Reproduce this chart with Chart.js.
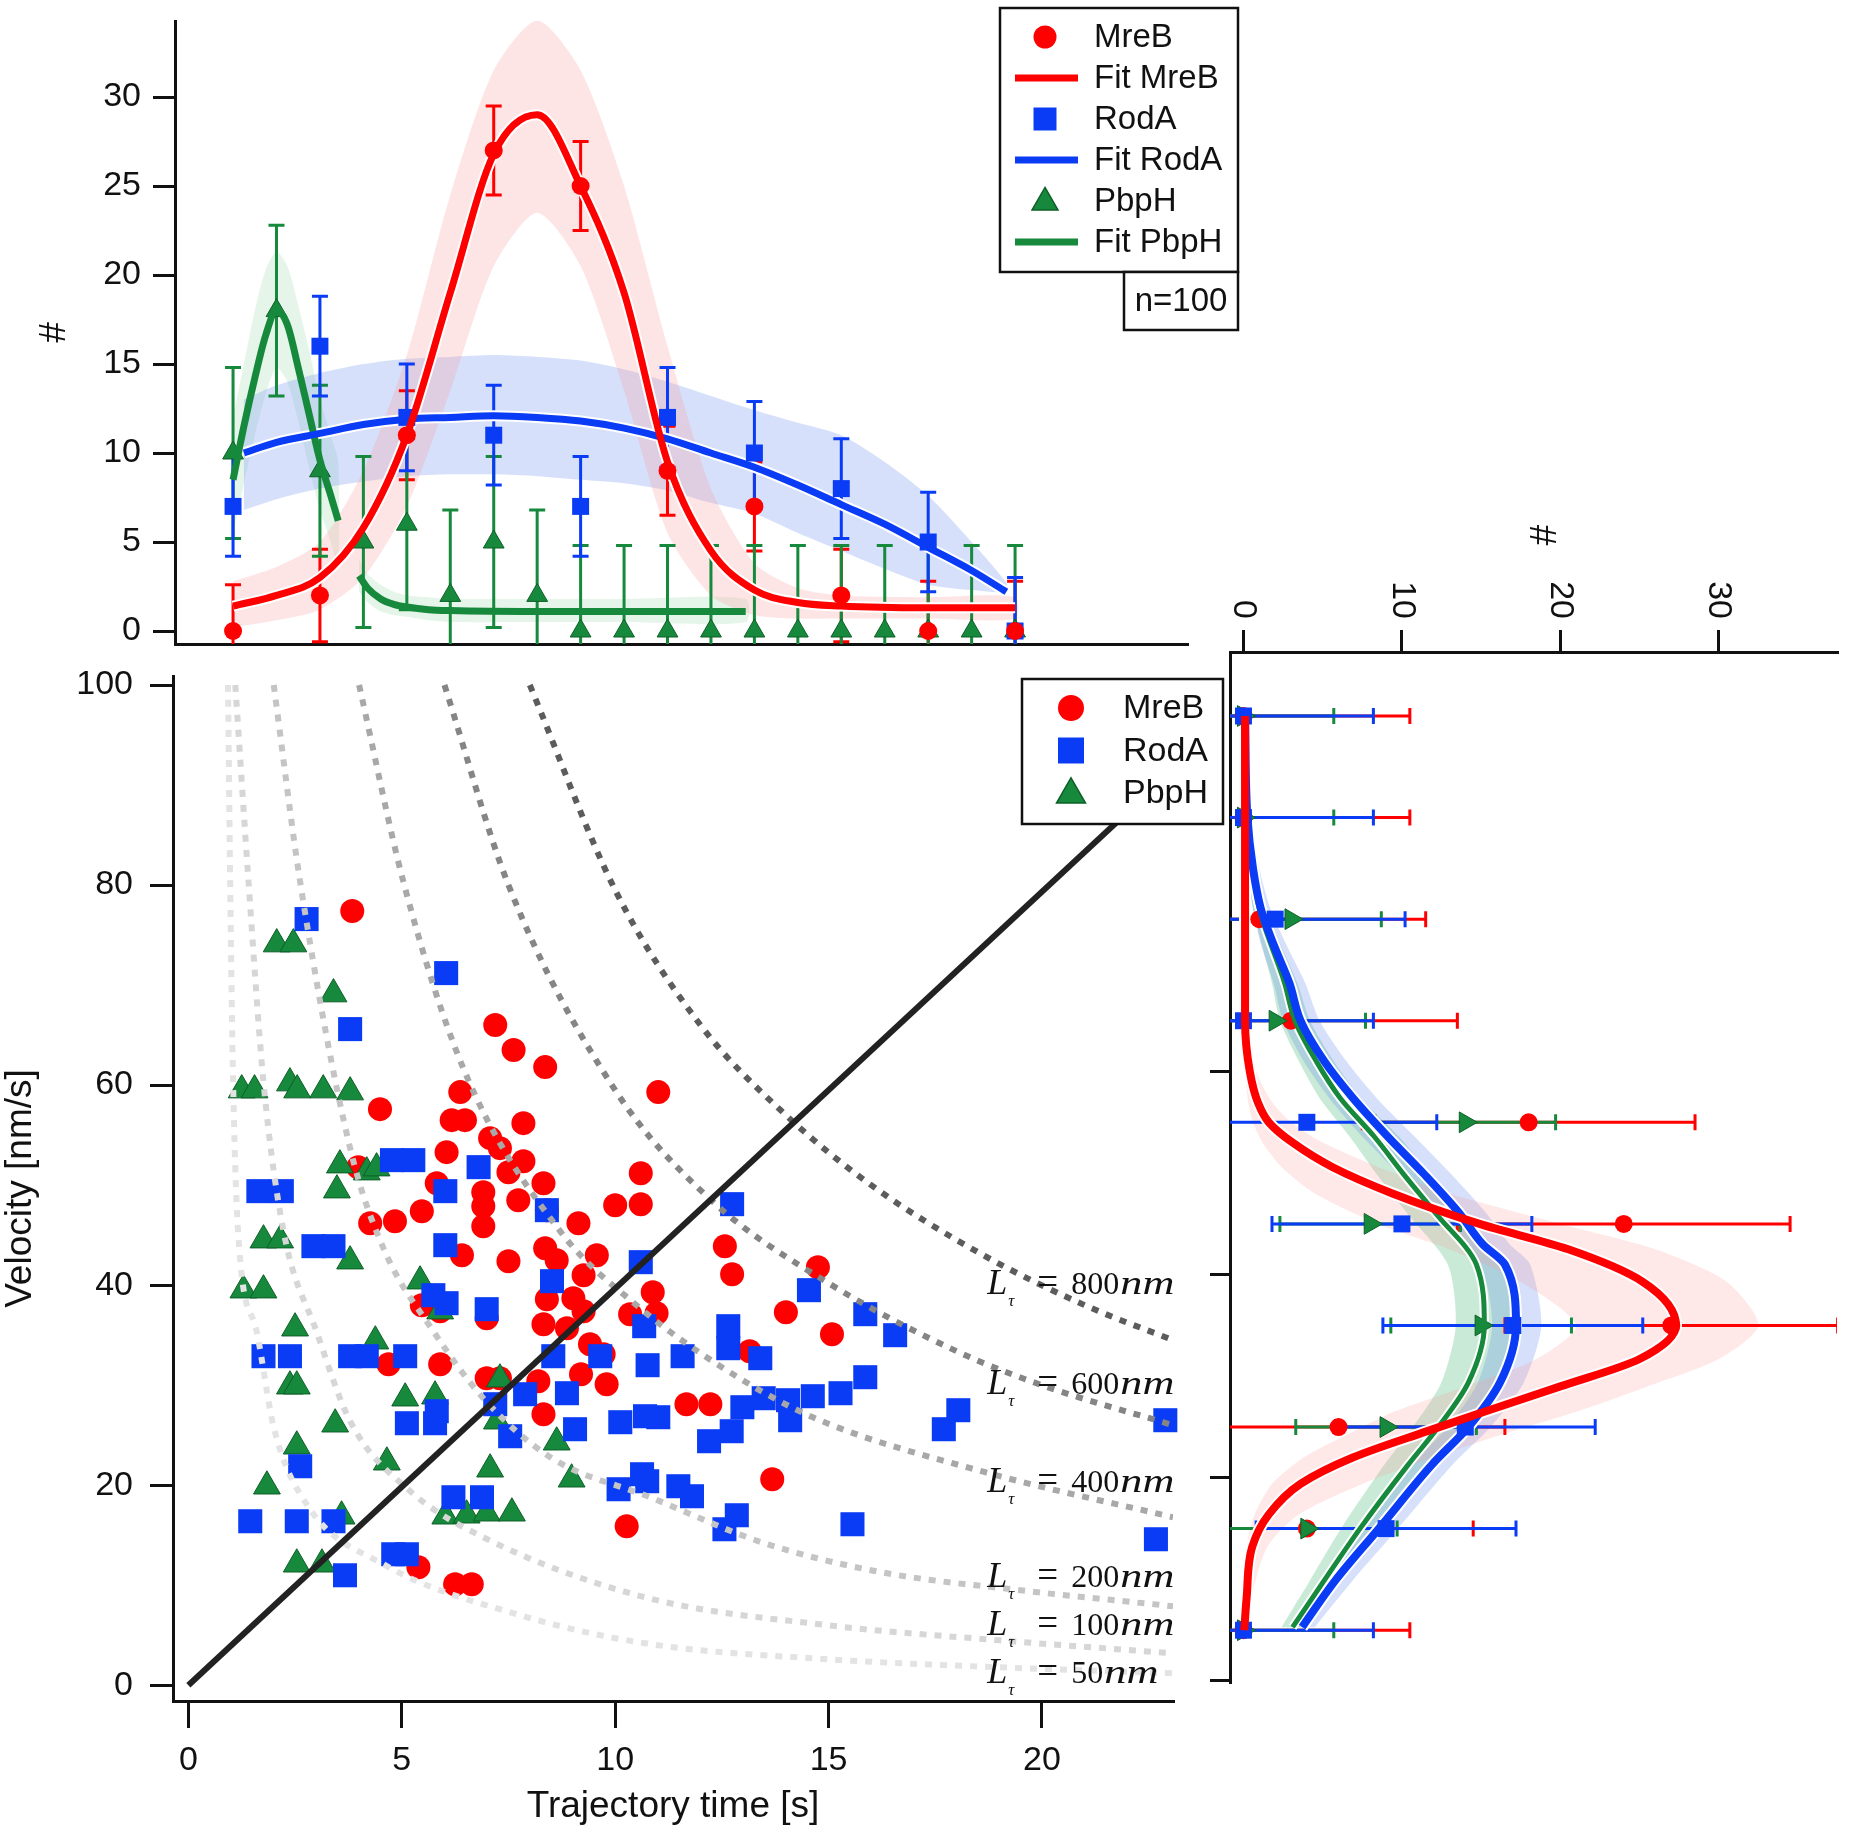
<!DOCTYPE html>
<html lang="en">
<head>
<meta charset="UTF-8">
<title>MreB / RodA / PbpH trajectory time and velocity</title>
<script src="https://cdn.jsdelivr.net/npm/chart.js"></script>
<style>
  body { margin: 0; background: #fff; }
  #wrap { position: relative; width: 1850px; height: 1830px; }
  #wrap canvas { position: absolute; left: 0; top: 0; }
</style>
</head>
<body>
<div id="wrap">
  <canvas id="timeChart" width="1850" height="1830"></canvas>
  <canvas id="scatterChart" width="1850" height="1830"></canvas>
  <canvas id="velChart" width="1850" height="1830"></canvas>
</div>
<script>
// ---------- top panel: histogram of trajectory times ----------
const timeBins = [1, 3, 5, 7, 9, 11, 13, 15, 17, 19];
const mrebTimeCounts = [0, 2, 11, 27, 25, 9, 7, 2, 0, 0];
const mrebTimeErr = [2.6, 2.6, 2.5, 2.5, 2.5, 2.5, 2.5, 2.6, 2.8, 2.8];
const rodaTimeCounts = [7, 16, 12, 11, 7, 12, 10, 8, 5, 0];
const rodaTimeErr = [2.8, 2.8, 3.0, 2.8, 2.8, 2.8, 2.9, 2.8, 2.8, 3.0];
const pbphTimeBins = [1, 2, 3, 4, 5, 6, 7, 8, 9, 10, 11, 12, 13, 14, 15, 16, 17, 18, 19];
const pbphTimeCounts = [10, 18, 9, 5, 6, 2, 5, 2, 0, 0, 0, 0, 0, 0, 0, 0, 0, 0, 0];
const pbphTimeErr = [4.8, 4.8, 4.8, 4.8, 4.8, 4.8, 4.8, 4.8, 4.8, 4.8, 4.8, 4.8, 4.8, 4.8, 4.8, 4.8, 4.8, 4.8, 4.8];

// fitted curves
const mrebFitT = [1, 2, 3, 4, 5, 6, 7, 8, 9, 10, 11, 12, 13, 14, 15, 17, 19];
const mrebFit = [1.4, 2.0, 3.0, 5.8, 11, 19, 26.8, 29, 25, 19, 9.5, 4.5, 2.3, 1.6, 1.4, 1.3, 1.3];
const mrebBandHi = [2.8, 3.6, 5.0, 9, 15.5, 24.5, 31.5, 34.3, 31.5, 25, 16, 8, 3.8, 2.4, 2.0, 1.9, 1.9];
const mrebBandLo = [0.2, 0.6, 1.2, 3.0, 7.0, 13.5, 20.5, 23.5, 20.5, 13.5, 5.5, 2.0, 0.9, 0.7, 0.7, 0.7, 0.7];
const rodaFitT = [1.25, 2, 3, 4, 5, 6, 7, 8, 9, 10, 11, 12, 13, 14, 15, 16, 17, 18, 18.8];
const rodaFit = [10.0, 10.6, 11.1, 11.6, 11.9, 12.0, 12.1, 12.0, 11.8, 11.4, 10.8, 10.0, 9.2, 8.2, 7.1, 6.0, 4.7, 3.4, 2.2];
const rodaBandHi = [13, 13.8, 14.5, 15.0, 15.3, 15.4, 15.5, 15.4, 15.2, 14.7, 14.0, 13.2, 12.4, 11.7, 11.0, 9.5, 7.6, 5, 2.7];
const rodaBandLo = [6.8, 7.4, 8.0, 8.4, 8.7, 8.8, 8.8, 8.7, 8.5, 8.3, 7.9, 7.2, 6.6, 5.5, 4.5, 3.5, 2.6, 2.3, 2.2];
const pbphFitT1 = [1, 1.25, 1.5, 1.75, 2, 2.25, 2.5, 2.75, 3, 3.25, 3.42];
const pbphFit1 = [8.5, 11.5, 14.2, 16.6, 18, 17.2, 14.8, 12.2, 9.6, 7.6, 6.2];
const pbphBandHi1 = [12, 15, 18, 20.3, 21.3, 20.5, 18.3, 15.8, 13, 11, 9.5];
const pbphBandLo1 = [5.5, 8.3, 11, 13.3, 14.8, 14.0, 11.8, 9.2, 6.8, 5.0, 3.6];
const pbphFitT2 = [3.9, 4.1, 4.4, 4.7, 5.0, 5.5, 6, 8, 10, 12.8];
const pbphFit2 = [3.1, 2.4, 1.8, 1.5, 1.35, 1.2, 1.15, 1.1, 1.1, 1.1];
const pbphBandHi2 = [4.0, 3.2, 2.6, 2.2, 2.0, 1.9, 1.8, 1.8, 1.8, 1.8];
const pbphBandLo2 = [2.2, 1.6, 1.1, 0.9, 0.8, 0.6, 0.5, 0.5, 0.5, 0.5];
const timeCountTicks = [0, 5, 10, 15, 20, 25, 30];

// ---------- main panel: velocity vs trajectory time ----------
const mrebT = [3.84, 7.19, 7.62, 8.36, 11.01, 4.49, 6.37, 6.17, 6.48, 7.85, 7.07, 7.3, 6.05, 7.85, 7.5, 8.32, 5.82, 6.91, 6.91, 7.73,
  6.91, 8.4, 9.14, 10.0, 10.6, 10.6, 5.47, 4.84, 4.26, 6.41, 7.5, 8.36, 8.63, 9.57, 9.26, 8.4, 9.02, 9.26, 8.32, 8.87,
  10.35, 9.73, 9.2, 9.8, 6.99, 7.3, 8.2, 4.69, 5.9, 3.98, 5.47, 5.9, 6.99, 10.88, 10.97, 12.57, 12.74, 14.75, 14.0, 15.08,
  13.15, 11.67, 12.23, 9.41, 8.32, 10.27, 5.39, 6.25, 6.64, 13.68];
const mrebV = [77.4, 66.0, 63.5, 61.8, 59.3, 57.6, 59.3, 56.5, 56.5, 56.2, 54.7, 53.7, 53.3, 52.4, 51.3, 50.2, 50.2, 49.3, 47.9, 48.5,
  45.9, 47.5, 46.2, 48.0, 48.1, 51.2, 47.4, 46.4, 46.2, 43.0, 42.4, 43.7, 42.5, 43.0, 41.0, 38.6, 38.7, 37.4, 36.1, 35.7,
  37.1, 33.1, 31.1, 30.1, 30.7, 30.7, 30.4, 32.1, 32.1, 51.8, 38.0, 37.4, 36.7, 39.3, 37.2, 43.9, 41.1, 41.8, 37.3, 35.1,
  33.4, 28.1, 28.1, 34.1, 27.1, 15.9, 11.8, 10.1, 10.1, 20.6];
const rodaT = [2.77, 6.04, 3.79, 4.77, 5.27, 6.8, 6.02, 1.64, 2.19, 8.4, 2.93, 3.4, 6.02, 8.52, 6.99, 5.74, 6.05, 10.6, 12.74, 14.54,
  15.86, 16.56, 10.68, 12.65, 12.65, 13.4, 11.58, 10.76, 15.86, 15.28, 14.63, 14.05, 13.48, 12.98, 14.1, 18.04, 17.7, 22.89, 11.01, 12.73,
  12.2, 10.75, 11.48, 11.8, 12.85, 12.56, 15.56, 22.67, 1.76, 2.38, 3.79, 4.18, 5.08, 8.55, 9.65, 7.89, 8.87, 7.19, 5.12, 5.82,
  5.78, 7.54, 9.06, 10.12, 10.7, 2.62, 6.21, 6.88, 10.08, 10.63, 1.45, 2.54, 3.4, 4.8, 5.12, 3.67];
const rodaV = [76.6, 71.2, 65.6, 52.5, 52.5, 51.8, 49.4, 49.4, 49.4, 47.5, 43.9, 43.9, 44.0, 40.4, 37.6, 39.0, 38.2, 42.3, 48.1, 39.5,
  37.1, 35.0, 35.9, 35.9, 33.7, 32.7, 32.9, 32.0, 30.8, 29.2, 28.9, 28.5, 28.7, 27.8, 26.5, 27.5, 25.6, 26.5, 26.8, 25.4,
  24.4, 20.4, 19.9, 18.9, 17.0, 15.6, 16.1, 14.6, 32.9, 32.9, 32.9, 32.9, 32.9, 32.9, 32.9, 29.1, 29.2, 28.1, 26.2, 27.4,
  26.2, 24.9, 25.6, 26.3, 26.9, 21.9, 18.8, 18.8, 19.6, 21.1, 16.4, 16.4, 16.4, 13.1, 13.1, 11.0];
const pbphT = [2.07, 2.46, 3.4, 1.25, 1.55, 2.38, 2.55, 3.16, 3.79, 3.55, 3.48, 4.18, 4.41, 1.76, 2.15, 3.79, 1.29, 1.76, 5.43, 2.5,
  4.38, 5.9, 2.38, 2.54, 5.08, 5.78, 7.3, 3.44, 2.54, 4.65, 7.07, 8.63, 8.98, 1.84, 3.59, 6.02, 6.52, 6.99, 7.58, 2.54,
  3.13, 7.23];
const pbphV = [74.1, 74.1, 69.1, 59.5, 59.5, 60.2, 59.5, 59.5, 59.3, 52.0, 49.5, 51.3, 51.7, 44.5, 44.5, 42.4, 39.5, 39.5, 40.4, 35.7,
  34.4, 37.4, 29.9, 29.9, 28.7, 28.9, 30.6, 26.1, 23.9, 22.3, 21.6, 24.3, 20.6, 19.9, 16.9, 16.9, 17.0, 17.2, 17.2, 12.1,
  12.1, 26.4];
// constant-length guide curves
const len800T = [8, 10, 12, 14, 16, 18.5, 21, 23.07];
const len800V = [100, 79.5, 66, 57, 50, 43.3, 38, 34.5];
const len600T = [6, 7.5, 10, 12.25, 15, 18, 20, 23.07];
const len600V = [100, 80, 59.5, 48.5, 40.2, 33.4, 30, 26];
const len400T = [4, 5.04, 6.45, 8.71, 10.5, 12.5, 14.63, 18.67, 23.07];
const len400V = [100, 80.3, 61.6, 45.4, 38, 31.8, 26.8, 21.3, 16.8];
const len200T = [2, 2.62, 3.79, 4.57, 5.74, 6.91, 8.48, 10.82, 13.5, 16.24, 19.5, 23.07];
const len200V = [100, 80.3, 53.7, 43.7, 35.4, 28.7, 22.8, 18.8, 14.2, 11.3, 9.5, 7.9];
const len100T = [1.1, 1.41, 1.76, 2.23, 3.0, 3.79, 5.2, 6.91, 10.7, 15, 19, 23.07];
const len100V = [100, 80.3, 60.3, 45.4, 35.4, 26.4, 19.4, 14.8, 8.8, 6.0, 4.5, 3.2];
const len50T = [0.93, 0.98, 1.05, 1.17, 1.6, 2.0, 2.77, 4.57, 7.7, 10.7, 15, 19, 23.07];
const len50V = [100, 80, 60, 45, 35.4, 25.8, 18.1, 12.1, 7.1, 4.2, 2.6, 1.8, 1.2];
const diagT = [0, 23.07];
const diagV = [0, 91.5];
const timeTicks = [0, 5, 10, 15, 20];
const velTicks = [0, 20, 40, 60, 80, 100];
const lenLabels = [800, 600, 400, 200, 100, 50];
const lenLabelAt = [[18.72, 39.1], [18.72, 29.1], [18.72, 19.3], [18.72, 9.8], [18.72, 5.0], [18.72, 0.2]];

// ---------- right panel: histogram of velocities ----------
const velBins = [5, 15, 25, 35, 45, 55, 65, 75, 85, 95];
const mrebVelCounts = [0, 4, 6, 27, 24, 18, 3, 1, 0, 0];
const rodaVelCounts = [0, 9, 14, 17, 10, 4, 0, 2, 0, 0];
const pbphVelCounts = [0, 4, 9, 15, 8, 14, 2, 3, 0, 0];
const mrebVelErr = [10.5, 10.5, 10.5, 10.5, 10.5, 10.5, 10.5, 10.5, 10.5, 10.5];
const rodaVelErr = [8.2, 8.2, 8.2, 8.2, 8.2, 8.2, 8.2, 8.2, 8.2, 8.2];
const pbphVelErr = [5.7, 5.7, 5.7, 5.7, 5.7, 5.7, 5.7, 5.7, 5.7, 5.7];
const mrebVelFitV = [5, 8.2, 13.2, 16.4, 19.4, 22, 24.6, 26.5, 29, 31.7, 35, 39.3, 42.5, 45, 48, 50.6, 53, 55, 57, 60, 65, 75, 85, 95];
const mrebVelFit = [0.05, 0.2, 0.55, 1.6, 3.6, 6.9, 11.6, 15.2, 20, 25, 27.3, 25.2, 20.5, 14.9, 9.4, 5.6, 3.1, 1.6, 0.9, 0.4, 0.1, 0.1, 0.1, 0.1];
const mrebVelBandLo = [0, 0, 0.2, 0.7, 1.8, 3.8, 7, 9.5, 14, 18.5, 21, 17.5, 13, 8.5, 4.5, 2.4, 1.2, 0.6, 0.3, 0.1, 0, 0, 0, 0];
const mrebVelBandHi = [0.3, 0.5, 1.5, 3.5, 7.5, 12, 17, 21, 25.5, 30, 32.5, 30.5, 26, 20, 13, 8.5, 5, 3, 1.8, 0.8, 0.3, 0.2, 0.2, 0.2];
const rodaVelFitV = [5.3, 9.9, 15.1, 21.3, 25, 29.4, 35, 41, 43, 46.1, 49.9, 53.6, 57.4, 61, 65, 68.7, 72.5, 76, 80, 85, 95];
const rodaVelFit = [3.7, 5.8, 8.6, 11.9, 14.2, 16.2, 17.2, 16.5, 15.1, 13.6, 11.4, 9.1, 6.9, 5.1, 3.6, 2.9, 1.9, 1.1, 0.6, 0.25, 0.1];
const rodaVelBandLo = [3, 4.8, 7.4, 10.6, 12.9, 14.8, 15.7, 15, 13.6, 12, 9.8, 7.5, 5.4, 3.8, 2.5, 1.9, 1.1, 0.6, 0.3, 0.1, 0];
const rodaVelBandHi = [4.5, 6.9, 9.8, 13.2, 15.6, 17.7, 18.8, 18.1, 16.8, 15.3, 13.1, 10.8, 8.4, 6.5, 4.8, 3.9, 2.7, 1.7, 1.0, 0.5, 0.2];
const pbphVelFitV = [5.3, 9.9, 15.1, 21.3, 25, 29.4, 35, 41, 46.1, 49.9, 53.6, 57.4, 61, 65, 68.7, 76, 80, 85, 95];
const pbphVelFit = [3.1, 5.1, 7.4, 10.4, 12.3, 14.2, 15.2, 14.7, 12.1, 10.1, 8.25, 6.1, 4.6, 3.25, 2.6, 1.0, 0.6, 0.2, 0.1];
const pbphVelBandLo = [2.4, 4.2, 6.2, 8.9, 10.7, 12.5, 13.4, 12.9, 10.3, 8.4, 6.7, 4.8, 3.5, 2.3, 1.8, 0.6, 0.3, 0.1, 0];
const pbphVelBandHi = [3.8, 6.0, 8.6, 11.9, 13.9, 15.9, 17.0, 16.5, 13.9, 11.8, 9.8, 7.4, 5.7, 4.2, 3.4, 1.4, 0.9, 0.4, 0.2];
const velCountTicks = [0, 10, 20, 30];
const velAxisTicks = [0, 20, 40, 60];

// ---------- look ----------
const SANS = '"Liberation Sans", Arial, Helvetica, sans-serif';
const SERIF = '"Liberation Serif", "Times New Roman", serif';
const INK = '#111';
const RED = '#ff0000', BLUE = '#0a3cf5', GREEN = '#17893c', GREEN_EDGE = '#0d5f27';

Chart.defaults.font.family = SANS;
Chart.defaults.color = INK;
Chart.defaults.animation = false;
Chart.defaults.events = [];
Chart.defaults.plugins.legend.display = false;
Chart.defaults.plugins.tooltip.enabled = false;

const pts = (xs, ys) => xs.map((x, i) => ({x, y: ys[i]}));
const bandV = (xs, lo, hi) => pts(xs, hi).concat(pts(xs, lo).reverse());
const bandH = (vs, lo, hi) => pts(hi, vs).concat(pts(lo, vs).reverse());
const setTicks = list => s => { s.ticks = list.map(value => ({value})); };
// fix the box of an axis so the plot area lands where the picture has it
const fixBox = (w, h) => s => {
  if (w !== null) s.width = w;
  if (h !== null) s.height = h;
  s.paddingTop = s.paddingBottom = s.paddingLeft = s.paddingRight = 0;
};

function curve(data, color, width, order, extra) {
  return Object.assign({data, borderColor: color, borderWidth: width, pointRadius: 0, fill: false, order}, extra || {});
}
function band(data, color, order) {
  return {data, fill: 'shape', backgroundColor: color, borderWidth: 0, pointRadius: 0, tension: 0.25, order};
}
function markers(data, style, radius, color, order, extra) {
  return Object.assign({data, showLine: false, pointStyle: style, pointRadius: radius,
    pointBackgroundColor: color, pointBorderColor: color, pointBorderWidth: 0, order, clip: false}, extra || {});
}

function drawMarker(ctx, style, x, y, size, color, edge) {
  ctx.save();
  ctx.fillStyle = color;
  ctx.beginPath();
  if (style === 'circle') {
    ctx.arc(x, y, size / 2, 0, Math.PI * 2);
  } else if (style === 'rect') {
    ctx.rect(x - size / 2, y - size / 2, size, size);
  } else {
    const h = size * 0.87;
    ctx.moveTo(x, y - h * 0.6);
    ctx.lineTo(x + size / 2, y + h * 0.4);
    ctx.lineTo(x - size / 2, y + h * 0.4);
    ctx.closePath();
  }
  ctx.fill();
  if (edge) { ctx.strokeStyle = edge; ctx.lineWidth = 1.5; ctx.stroke(); }
  ctx.restore();
}

// error bars are drawn right after the dataset flagged errHook
function errorBars(sets, horizontal) {
  const CAP = 8;
  return {
    id: 'errorBars',
    afterDatasetDraw(chart, args) {
      if (!chart.data.datasets[args.index].errHook) return;
      const {ctx, chartArea: a, scales: {x, y}} = chart;
      ctx.save();
      ctx.beginPath();
      ctx.rect(a.left, a.top, a.right - a.left, a.bottom - a.top);
      ctx.clip();
      ctx.lineWidth = 3;
      sets.forEach(s => {
        ctx.strokeStyle = s.color;
        s.at.forEach((p, i) => {
          const lo = s.val[i] - s.err[i], hi = s.val[i] + s.err[i];
          ctx.beginPath();
          if (horizontal) {
            const py = y.getPixelForValue(p), x0 = x.getPixelForValue(lo), x1 = x.getPixelForValue(hi);
            ctx.moveTo(x0, py); ctx.lineTo(x1, py);
            ctx.moveTo(x0, py - CAP); ctx.lineTo(x0, py + CAP);
            ctx.moveTo(x1, py - CAP); ctx.lineTo(x1, py + CAP);
          } else {
            const px = x.getPixelForValue(p), y0 = y.getPixelForValue(lo), y1 = y.getPixelForValue(hi);
            ctx.moveTo(px, y0); ctx.lineTo(px, y1);
            ctx.moveTo(px - CAP, y0); ctx.lineTo(px + CAP, y0);
            ctx.moveTo(px - CAP, y1); ctx.lineTo(px + CAP, y1);
          }
          ctx.stroke();
        });
      });
      ctx.restore();
    }
  };
}

// ---------- top chart ----------
const topLegend = {
  id: 'topLegend',
  afterDraw(chart) {
    const ctx = chart.ctx;
    const items = [
      ['circle', RED, 'MreB'], ['line', RED, 'Fit MreB'],
      ['rect', BLUE, 'RodA'], ['line', BLUE, 'Fit RodA'],
      ['triangle', GREEN, 'PbpH'], ['line', GREEN, 'Fit PbpH']
    ];
    ctx.save();
    ctx.fillStyle = '#fff';
    ctx.strokeStyle = INK;
    ctx.lineWidth = 2.5;
    ctx.fillRect(1000, 8, 238, 264);
    ctx.strokeRect(1000, 8, 238, 264);
    ctx.fillRect(1124, 272, 114, 58);
    ctx.strokeRect(1124, 272, 114, 58);
    ctx.font = '33px ' + SANS;
    ctx.textBaseline = 'middle';
    items.forEach(([kind, color, text], i) => {
      const y = 37 + i * 41;
      if (kind === 'line') {
        ctx.strokeStyle = color;
        ctx.lineWidth = 7;
        ctx.beginPath(); ctx.moveTo(1015, y); ctx.lineTo(1078, y); ctx.stroke();
      } else {
        drawMarker(ctx, kind, 1045, y, kind === 'triangle' ? 26 : 23, color, kind === 'triangle' ? GREEN_EDGE : null);
      }
      ctx.fillStyle = INK;
      ctx.fillText(text, 1094, y + 1);
    });
    ctx.textAlign = 'center';
    ctx.fillText('n=100', 1181, 302);
    ctx.restore();
  }
};

const smooth = {cubicInterpolationMode: 'monotone'};

new Chart(document.getElementById('timeChart'), {
  type: 'line',
  data: {datasets: [
    curve(pts(mrebFitT, mrebFit), RED, 7, 2, smooth),
    curve(pts(rodaFitT, rodaFit), BLUE, 7, 2.1, smooth),
    curve(pts(pbphFitT1, pbphFit1), GREEN, 7, 2.2, smooth),
    curve(pts(pbphFitT2, pbphFit2), GREEN, 7, 2.2, smooth),
    markers(pts(timeBins, mrebTimeCounts), 'circle', 9, RED, 2.4),
    markers(pts(timeBins, rodaTimeCounts), 'rect', 12, BLUE, 2.45),
    markers(pts(pbphTimeBins, pbphTimeCounts), 'triangle', 12, GREEN, 2.5, {pointBorderColor: GREEN_EDGE, pointBorderWidth: 1}),
    curve(pts(mrebFitT, mrebFit), '#fff', 11, 2.8, smooth),
    curve(pts(rodaFitT, rodaFit), '#fff', 11, 2.85, smooth),
    {data: [], errHook: true, order: 3},
    band(bandV(mrebFitT, mrebBandLo, mrebBandHi), 'rgba(250, 150, 150, 0.25)', 4),
    band(bandV(rodaFitT, rodaBandLo, rodaBandHi), 'rgba(90, 130, 240, 0.25)', 4.1),
    band(bandV(pbphFitT1, pbphBandLo1, pbphBandHi1), 'rgba(60, 180, 90, 0.13)', 4.2),
    band(bandV(pbphFitT2, pbphBandLo2, pbphBandHi2), 'rgba(60, 180, 90, 0.13)', 4.2)
  ]},
  options: {
    responsive: false,
    layout: {padding: {left: 0, top: 21, right: 1850 - 1188, bottom: 1830 - 644}},
    scales: {
      x: {
        type: 'linear', min: -0.336, max: 22.98,
        afterFit: fixBox(null, 0),
        ticks: {display: false}, grid: {display: false},
        border: {display: true, color: INK, width: 3}
      },
      y: {
        type: 'linear', min: -0.73, max: 34.27,
        afterFit: fixBox(175, null),
        afterBuildTicks: setTicks(timeCountTicks),
        ticks: {font: {size: 34}, color: INK, padding: 12},
        grid: {drawOnChartArea: false, drawTicks: true, tickLength: 22, color: INK, lineWidth: 3},
        border: {display: true, color: INK, width: 3},
        title: {display: true, text: '#', font: {size: 37}, color: INK, padding: {top: 33, bottom: 0}}
      }
    }
  },
  plugins: [
    errorBars([
      {at: timeBins, val: mrebTimeCounts, err: mrebTimeErr, color: RED},
      {at: pbphTimeBins, val: pbphTimeCounts, err: pbphTimeErr, color: GREEN},
      {at: timeBins, val: rodaTimeCounts, err: rodaTimeErr, color: BLUE}
    ], false),
    topLegend
  ]
});

// ---------- scatter chart ----------
const scatterDecor = {
  id: 'scatterDecor',
  afterDraw(chart) {
    const {ctx, scales: {x, y}} = chart;
    ctx.save();
    // length labels
    ctx.fillStyle = INK;
    ctx.textBaseline = 'alphabetic';
    lenLabels.forEach((L, i) => {
      const px = x.getPixelForValue(lenLabelAt[i][0]);
      const py = y.getPixelForValue(lenLabelAt[i][1]);
      ctx.font = 'italic 36px ' + SERIF;
      ctx.fillText('L', px, py);
      ctx.font = 'italic 17px ' + SERIF;
      ctx.fillText('\u03c4', px + 21, py + 12);
      ctx.font = '37px ' + SERIF;
      ctx.fillText('=', px + 50, py);
      ctx.font = '32px ' + SERIF;
      ctx.fillText(String(L), px + 84, py);
      const w = ctx.measureText(String(L)).width;
      ctx.save();
      ctx.translate(px + 85 + w, py);
      ctx.scale(1.3, 1);
      ctx.font = 'italic 34px ' + SERIF;
      ctx.fillText('nm', 0, 0);
      ctx.restore();
    });
    // legend box
    ctx.fillStyle = '#fff';
    ctx.strokeStyle = INK;
    ctx.lineWidth = 2.5;
    ctx.fillRect(1022, 679, 201, 145);
    ctx.strokeRect(1022, 679, 201, 145);
    ctx.font = '34px ' + SANS;
    ctx.textBaseline = 'middle';
    [['circle', RED, 'MreB'], ['rect', BLUE, 'RodA'], ['triangle', GREEN, 'PbpH']].forEach(([kind, color, text], i) => {
      const ly = 708 + i * 42.5;
      drawMarker(ctx, kind, 1071, ly, kind === 'triangle' ? 29 : 26, color, kind === 'triangle' ? GREEN_EDGE : null);
      ctx.fillStyle = INK;
      ctx.fillText(text, 1123, ly + 1);
    });
    ctx.restore();
  }
};

const dotted = (t, v, color, order) => curve(pts(t, v), color, 6, order,
  {borderDash: [7, 8], borderCapStyle: 'butt', cubicInterpolationMode: 'monotone'});

new Chart(document.getElementById('scatterChart'), {
  type: 'line',
  data: {datasets: [
    curve(pts(diagT, diagV), '#222', 6, 1),
    dotted(len800T, len800V, '#5c5c5c', 2),
    dotted(len600T, len600V, '#858585', 2.1),
    dotted(len400T, len400V, '#a8a8a8', 2.2),
    dotted(len200T, len200V, '#c4c4c4', 2.3),
    dotted(len100T, len100V, '#d6d6d6', 2.4),
    dotted(len50T, len50V, '#e3e3e3', 2.5),
    markers(pts(rodaT, rodaV), 'rect', 17, BLUE, 3),
    markers(pts(pbphT, pbphV), 'triangle', 15.5, GREEN, 4, {pointBorderColor: GREEN_EDGE, pointBorderWidth: 1}),
    markers(pts(mrebT, mrebV), 'circle', 12, RED, 5)
  ]},
  options: {
    responsive: false,
    layout: {padding: {left: 0, top: 676, right: 1850 - 1173, bottom: 0}},
    scales: {
      x: {
        type: 'linear', min: -0.36, max: 23.07,
        afterFit: fixBox(null, 129),
        afterBuildTicks: setTicks(timeTicks),
        ticks: {font: {size: 34}, color: INK, padding: 12},
        grid: {drawOnChartArea: false, drawTicks: true, tickLength: 27, color: INK, lineWidth: 3},
        border: {display: true, color: INK, width: 3},
        title: {display: true, text: 'Trajectory time [s]', font: {size: 37}, color: INK, padding: {top: 0, bottom: 1}}
      },
      y: {
        type: 'linear', min: -1.57, max: 100.9,
        afterFit: fixBox(173, null),
        afterBuildTicks: setTicks(velTicks),
        ticks: {font: {size: 34}, color: INK, padding: 17},
        grid: {drawOnChartArea: false, drawTicks: true, tickLength: 23, color: INK, lineWidth: 3},
        border: {display: true, color: INK, width: 3},
        title: {display: true, text: 'Velocity [nm/s]', font: {size: 37, lineHeight: 1.15}, color: INK, padding: {top: 0, bottom: 0}}
      }
    }
  },
  plugins: [scatterDecor]
});

// ---------- right chart ----------
const velDecor = {
  id: 'velDecor',
  afterDraw(chart) {
    const {ctx, scales: {x}} = chart;
    ctx.save();
    ctx.fillStyle = INK;
    ctx.font = '34px ' + SANS;
    ctx.textAlign = 'right';
    ctx.textBaseline = 'middle';
    velCountTicks.forEach(v => {
      ctx.save();
      ctx.translate(x.getPixelForValue(v), 619);
      ctx.rotate(Math.PI / 2);
      ctx.fillText(String(v), 0, 0);
      ctx.restore();
    });
    ctx.font = '37px ' + SANS;
    ctx.textAlign = 'center';
    ctx.translate(x.getPixelForValue(18.7), 535);
    ctx.rotate(Math.PI / 2);
    ctx.fillText('#', 0, 0);
    ctx.restore();
  }
};

new Chart(document.getElementById('velChart'), {
  type: 'line',
  data: {datasets: [
    curve(pts(mrebVelFit, mrebVelFitV), RED, 8, 2, smooth),
    curve(pts(rodaVelFit, rodaVelFitV), BLUE, 8, 2.1, smooth),
    curve(pts(pbphVelFit, pbphVelFitV), GREEN, 5, 2.2, smooth),
    markers(pts(rodaVelCounts, velBins), 'rect', 12, BLUE, 2.4),
    markers(pts(pbphVelCounts, velBins), 'triangle', 12, GREEN, 2.45, {pointRotation: 90, pointBorderColor: GREEN_EDGE, pointBorderWidth: 1}),
    markers(pts(mrebVelCounts, velBins), 'circle', 9, RED, 2.5),
    curve(pts(mrebVelFit, mrebVelFitV), '#fff', 12, 2.8, smooth),
    curve(pts(rodaVelFit, rodaVelFitV), '#fff', 12, 2.85, smooth),
    curve(pts(pbphVelFit, pbphVelFitV), '#fff', 9, 2.9, smooth),
    {data: [], errHook: true, order: 3},
    band(bandH(mrebVelFitV, mrebVelBandLo, mrebVelBandHi), 'rgba(250, 150, 150, 0.22)', 4),
    band(bandH(rodaVelFitV, rodaVelBandLo, rodaVelBandHi), 'rgba(90, 130, 240, 0.25)', 4.1),
    band(bandH(pbphVelFitV, pbphVelBandLo, pbphVelBandHi), 'rgba(60, 180, 110, 0.28)', 4.2)
  ]},
  options: {
    responsive: false,
    indexAxis: 'y',
    layout: {padding: {left: 0, top: 0, right: 1850 - 1841, bottom: 1830 - 1682}},
    scales: {
      x: {
        type: 'linear', position: 'top', min: -0.85, max: 37.46,
        afterFit: fixBox(null, 652),
        afterBuildTicks: setTicks(velCountTicks),
        ticks: {color: 'rgba(0,0,0,0)', font: {size: 34}},
        grid: {drawOnChartArea: false, drawTicks: true, tickLength: 22, color: INK, lineWidth: 3},
        border: {display: true, color: INK, width: 3}
      },
      y: {
        type: 'linear', min: -0.1, max: 101.3,
        afterFit: fixBox(1230, null),
        afterBuildTicks: setTicks(velAxisTicks),
        ticks: {color: 'rgba(0,0,0,0)', font: {size: 34}},
        grid: {drawOnChartArea: false, drawTicks: true, tickLength: 20, color: INK, lineWidth: 3},
        border: {display: true, color: INK, width: 3}
      }
    }
  },
  plugins: [
    errorBars([
      {at: velBins, val: mrebVelCounts, err: mrebVelErr, color: RED},
      {at: velBins, val: pbphVelCounts, err: pbphVelErr, color: GREEN},
      {at: velBins, val: rodaVelCounts, err: rodaVelErr, color: BLUE}
    ], true),
    velDecor
  ]
});
</script>
</body>
</html>
